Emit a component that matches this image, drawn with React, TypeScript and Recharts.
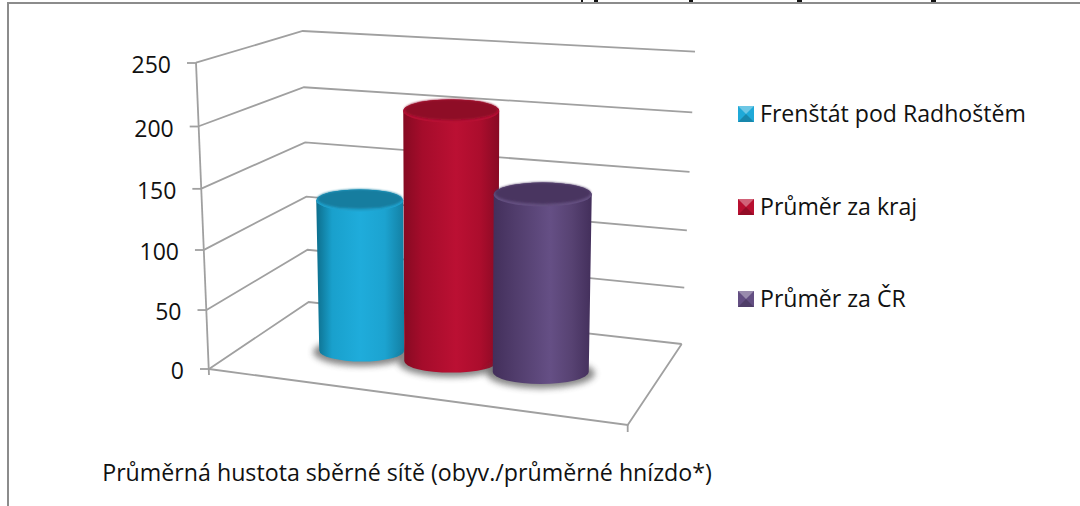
import { Bar, BarChart, Customized, Legend, XAxis, YAxis } from "recharts"

const categories = ["Průměrná hustota sběrné sítě (obyv./průměrné hnízdo*)"]
const seriesNames = ["Frenštát pod Radhoštěm", "Průměr za kraj", "Průměr za ČR"]
const seriesValues = [130, 211, 150]
const seriesColors = ["#1FA9D8", "#B80F30", "#634E82"]
const yTicks = [0, 50, 100, 150, 200, 250]

const data = categories.map((name) => {
  const row: Record<string, string | number> = { name }
  seriesNames.forEach((s, i) => {
    row[s] = seriesValues[i]
  })
  return row
})

const FONT = "'Open Sans', sans-serif"
const GRID = "#a0a0a0"
const Y_MAX = yTicks[yTicks.length - 1]
const PERSPECTIVE = -0.000182

// the value axis of the 3D box is not linear on screen
const depthT = (v: number) => (v * (1 + Y_MAX * PERSPECTIVE)) / (Y_MAX * (1 + PERSPECTIVE * v))

function perspectiveScale(dom = [0, Y_MAX], rng = [369, 63]) {
  const scale: any = (v: number) => {
    const t = depthT(((v - dom[0]) / (dom[1] - dom[0])) * Y_MAX)
    return rng[0] + (rng[1] - rng[0]) * t
  }
  scale.domain = (d?: number[]) => (d ? perspectiveScale(d, rng) : dom)
  scale.range = (r?: number[]) => (r ? perspectiveScale(dom, r) : rng)
  scale.copy = () => perspectiveScale(dom, rng)
  scale.ticks = () => yTicks
  return scale
}

const lerp = (a: number, b: number, t: number) => a + (b - a) * t

// box corners at value 0 and at the top value
const frontLeft = [[209, 369], [196, 62.7]]
const backLeft = [[308.7, 302], [302.7, 31]]
const backRight = [[681.7, 344], [695, 51.7]]
const frontRight = [627.7, 425]

const corner = (c: number[][], t: number) => [lerp(c[0][0], c[1][0], t), lerp(c[0][1], c[1][1], t)]
const axisX = (v: number) => lerp(frontLeft[0][0], frontLeft[1][0], depthT(v))

function WallGrid() {
  return (
    <g fill="none" stroke={GRID} strokeWidth={1.8}>
      {yTicks.map((v) => {
        const t = depthT(v)
        const pts = [corner(frontLeft, t), corner(backLeft, t), corner(backRight, t)]
        return <polyline key={v} points={pts.map((p) => p.join(",")).join(" ")} />
      })}
      <line x1={frontLeft[0][0]} y1={frontLeft[0][1] + 6} x2={frontLeft[1][0]} y2={frontLeft[1][1]} />
      <polyline
        points={[frontLeft[0], frontRight, backRight[0]].map((p) => p.join(",")).join(" ")}
      />
      <line x1={frontRight[0]} y1={frontRight[1]} x2={frontRight[0]} y2={frontRight[1] + 7} />
    </g>
  )
}

function PageFrame() {
  return (
    <g>
      <path d="M8 506 V3 H1080" fill="none" stroke="#8c8c8c" strokeWidth={2} />
      {/* bottoms of the cut off heading above the frame */}
      <g fill="#111">
        <rect x={581} y={0} width={2} height={2} />
        <rect x={594} y={0} width={4} height={2} />
        <rect x={689} y={0} width={4} height={2} />
        <rect x={797} y={0} width={5} height={2} />
        <rect x={931} y={0} width={5} height={2} />
      </g>
    </g>
  )
}

function Defs() {
  return (
    <defs>
      <linearGradient id="body0" x1="0" x2="1" y1="0" y2="0">
        <stop offset="0" stopColor="#0D6E8C" />
        <stop offset="0.18" stopColor="#19A0CC" />
        <stop offset="0.5" stopColor="#1FACDB" />
        <stop offset="0.78" stopColor="#1CA3D0" />
        <stop offset="1" stopColor="#137FA2" />
      </linearGradient>
      <linearGradient id="body1" x1="0" x2="1" y1="0" y2="0">
        <stop offset="0" stopColor="#860A22" />
        <stop offset="0.2" stopColor="#A50C2B" />
        <stop offset="0.55" stopColor="#BB1033" />
        <stop offset="0.8" stopColor="#AC0D2D" />
        <stop offset="1" stopColor="#880A24" />
      </linearGradient>
      <linearGradient id="body2" x1="0" x2="1" y1="0" y2="0">
        <stop offset="0" stopColor="#432F5B" />
        <stop offset="0.22" stopColor="#503C6B" />
        <stop offset="0.58" stopColor="#654F85" />
        <stop offset="0.8" stopColor="#574272" />
        <stop offset="1" stopColor="#432F5B" />
      </linearGradient>
      <filter id="soft" x="-20%" y="-50%" width="140%" height="200%">
        <feGaussianBlur stdDeviation="3" />
      </filter>
      <filter id="lidSoft" x="-5%" y="-20%" width="110%" height="140%">
        <feGaussianBlur stdDeviation="0.8" />
      </filter>
    </defs>
  )
}

// depth placement of each cylinder inside the box
const cylinderLayout = [
  { floor: 350.5, k: 0.965, topRx: 43.5, baseRx: 42.5, baseDx: 2, ry: 11 },
  { floor: 361, k: 0.975, topRx: 48, baseRx: 47, baseDx: 0, ry: 11.6 },
  { floor: 372, k: 0.985, topRx: 49, baseRx: 48, baseDx: -2, ry: 12 },
]
const capColors = [
  { lid: "#177D9F", rim: "#20A3CF" },
  { lid: "#8E0A25", rim: "#B81135" },
  { lid: "#4A3660", rim: "#645080" },
]

function Cylinder(props: any) {
  const { x, width, height, seriesIndex } = props
  const l = cylinderLayout[seriesIndex]
  const cap = capColors[seriesIndex]
  const cx = x + width / 2
  const bx = cx + l.baseDx
  const top = l.floor - height * l.k
  const base = l.floor
  const d = [
    `M${cx - l.topRx} ${top}`,
    `L${bx - l.baseRx} ${base}`,
    `A${l.baseRx} ${l.ry} 0 0 0 ${bx + l.baseRx} ${base}`,
    `L${cx + l.topRx} ${top}`,
    `A${l.topRx} ${l.ry} 0 0 0 ${cx - l.topRx} ${top}`,
    "Z",
  ].join(" ")
  return (
    <g>
      <ellipse cx={bx} cy={base + 1.5} rx={l.baseRx + 6} ry={l.ry + 3} fill="#444" opacity={0.65} filter="url(#soft)" />
      <path d={d} fill={`url(#body${seriesIndex})`} />
      <ellipse cx={cx} cy={top} rx={l.topRx} ry={l.ry} fill={cap.rim} />
      <ellipse cx={cx} cy={top - 1.4} rx={l.topRx - 1} ry={l.ry - 1.2} fill={cap.lid} filter="url(#lidSoft)" />
    </g>
  )
}

function ValueTick({ y, payload }: any) {
  const ax = axisX(payload.value)
  return (
    <g>
      <line x1={ax - 9} y1={y} x2={ax} y2={y} stroke={GRID} strokeWidth={1.8} />
      <text x={ax - 25} y={y + 1} textAnchor="end" dominantBaseline="central" fontSize={23} fontFamily={FONT} fill="#111">
        {payload.value}
      </text>
    </g>
  )
}

function CategoryTick({ x, y, payload }: any) {
  return (
    <text x={x - 44} y={y} textAnchor="middle" dominantBaseline="central" fontSize={23.2} fontFamily={FONT} fill="#111">
      {payload.value}
    </text>
  )
}

function LegendBlock({ payload }: any) {
  return (
    <div style={{ fontFamily: FONT, fontSize: 23.1, color: "#111" }}>
      {(payload || []).map((entry: any) => (
        <div key={entry.value} style={{ display: "flex", alignItems: "center", height: 92.5, whiteSpace: "nowrap" }}>
          <svg width={16} height={16} style={{ marginRight: 6, flex: "none" }}>
            <rect width={16} height={16} fill={entry.color} />
            <path d="M0 0 H16 L8 8 Z" fill="#fff" opacity={0.35} />
            <path d="M0 16 H16 L8 8 Z" fill="#000" opacity={0.2} />
          </svg>
          <span style={{ position: "relative", top: -1 }}>{entry.value}</span>
        </div>
      ))}
    </div>
  )
}

export default function App() {
  return (
    <div style={{ position: "absolute", left: 0, top: 0, width: 1080, height: 506, background: "#fff" }}>
      <BarChart
        width={1080}
        height={506}
        data={data}
        barSize={91.5}
        barGap={0}
        margin={{ top: 63, right: 387, bottom: 37, left: 149 }}
      >
        <Defs />
        <Customized component={PageFrame} />
        <Customized component={WallGrid} />
        <XAxis
          dataKey="name"
          height={100}
          axisLine={false}
          tickLine={false}
          tickMargin={0}
          interval={0}
          tick={(p: any) => <CategoryTick {...p} y={472} />}
        />
        <YAxis
          width={60}
          domain={[0, Y_MAX]}
          ticks={yTicks}
          interval={0}
          scale={perspectiveScale() as any}
          axisLine={false}
          tickLine={false}
          tick={ValueTick}
        />
        {seriesNames.map((s, i) => (
          <Bar
            key={s}
            dataKey={s}
            name={s}
            fill={seriesColors[i]}
            isAnimationActive={false}
            shape={(p: any) => <Cylinder {...p} seriesIndex={i} />}
          />
        ))}
        <Legend
          layout="vertical"
          align="center"
          verticalAlign="middle"
          content={LegendBlock as any}
          wrapperStyle={{ left: 738, top: 68, width: 330 }}
        />
      </BarChart>
    </div>
  )
}
